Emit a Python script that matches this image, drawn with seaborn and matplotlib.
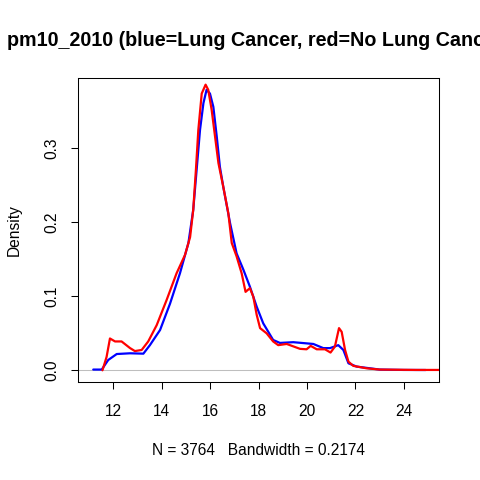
import numpy as np
import pandas as pd
import matplotlib
matplotlib.use('Agg')
import matplotlib.pyplot as plt
import seaborn as sns

# density curves (x = pm10, y = density)
blue_x = [11.17, 11.52, 11.79, 12.14, 12.69, 13.24, 13.51, 13.93, 14.34, 14.75,
          15.10, 15.30, 15.44, 15.58, 15.72, 15.85, 15.99, 16.13, 16.27, 16.40,
          16.54, 16.82, 17.09, 17.37, 17.64, 17.92, 18.19, 18.60, 18.88, 19.43,
          20.26, 20.67, 20.95, 21.29, 21.50, 21.71, 22.05, 22.60, 23.00, 24.00, 24.90]
blue_y = [0.001, 0.001, 0.014, 0.022, 0.023, 0.0225, 0.034, 0.0545, 0.090, 0.131,
          0.172, 0.217, 0.271, 0.325, 0.361, 0.379, 0.374, 0.356, 0.316, 0.275,
          0.248, 0.199, 0.158, 0.136, 0.113, 0.086, 0.0635, 0.041, 0.037, 0.038,
          0.0356, 0.030, 0.030, 0.034, 0.0275, 0.0095, 0.005, 0.0027, 0.001, 0.0005, 0.0004]

red_x = [11.55, 11.72, 11.86, 12.07, 12.34, 12.69, 12.89, 13.17, 13.44, 13.79,
         14.20, 14.61, 14.96, 15.17, 15.30, 15.41, 15.51, 15.65, 15.81, 15.92,
         16.06, 16.20, 16.34, 16.54, 16.75, 16.89, 17.09, 17.30, 17.46, 17.64,
         17.78, 17.92, 18.06, 18.33, 18.60, 18.81, 19.16, 19.71, 19.98, 20.15,
         20.40, 20.74, 20.97, 21.15, 21.32, 21.43, 21.57, 21.71, 21.91, 22.46,
         23.00, 24.50, 26.00]
red_y = [0.000, 0.018, 0.043, 0.039, 0.039, 0.030, 0.026, 0.0275, 0.039, 0.061,
         0.095, 0.131, 0.156, 0.180, 0.217, 0.271, 0.325, 0.374, 0.386, 0.379,
         0.352, 0.316, 0.280, 0.248, 0.212, 0.172, 0.154, 0.131, 0.106, 0.111,
         0.0995, 0.075, 0.057, 0.050, 0.039, 0.034, 0.0356, 0.029, 0.0284, 0.033,
         0.0284, 0.0284, 0.024, 0.032, 0.057, 0.052, 0.0275, 0.0117, 0.006, 0.0027,
         0.001, 0.0005, 0.0005]

x_ticks = [12, 14, 16, 18, 20, 22, 24]
y_ticks = [0.0, 0.1, 0.2, 0.3]

blue = pd.DataFrame({'pm10': blue_x, 'density': blue_y})
red = pd.DataFrame({'pm10': red_x, 'density': red_y})

sns.set_style('ticks')
plt.rcParams['font.family'] = ['Liberation Sans', 'DejaVu Sans']
plt.rcParams['text.color'] = 'black'
plt.rcParams['axes.labelcolor'] = 'black'

fig = plt.figure(figsize=(4.8, 4.8), dpi=100)
ax = fig.add_axes([78 / 480, 98 / 480, 361 / 480, 304 / 480])

ax.axhline(0, color='#BEBEBE', lw=0.75, zorder=1)
sns.lineplot(data=blue, x='pm10', y='density', color='blue', lw=1.6,
             estimator=None, sort=False, ax=ax, zorder=2)
sns.lineplot(data=red, x='pm10', y='density', color='red', lw=1.6,
             estimator=None, sort=False, ax=ax, zorder=3)

ax.set_xlim(10.54, 25.45)
ax.set_ylim(-0.0158, 0.395)
ax.set_xticks(x_ticks)
ax.set_yticks(y_ticks)
ax.set_yticklabels([f'{v:.1f}' for v in y_ticks], rotation=90, va='center')
ax.tick_params(direction='out', length=5, width=0.75, labelsize=11.2,
               colors='black')
ax.tick_params(axis='x', pad=11)
ax.tick_params(axis='y', pad=8.5)
for s in ax.spines.values():
    s.set_visible(True)
    s.set_linewidth(0.75)
    s.set_color('black')

ax.set_xlabel('N = 3764   Bandwidth = 0.2174', fontsize=11.2, labelpad=17)
ax.set_ylabel('Density', fontsize=11.2, labelpad=16)

# the title overflows the right edge, as it does in the original
fig.text(258.5 / 480, 1 - 40 / 480, 'pm10_2010 (blue=Lung Cancer, red=No Lung Cancer)',
         ha='center', va='center', fontsize=14.2, fontweight='bold')

fig.savefig('out.png', dpi=100)
